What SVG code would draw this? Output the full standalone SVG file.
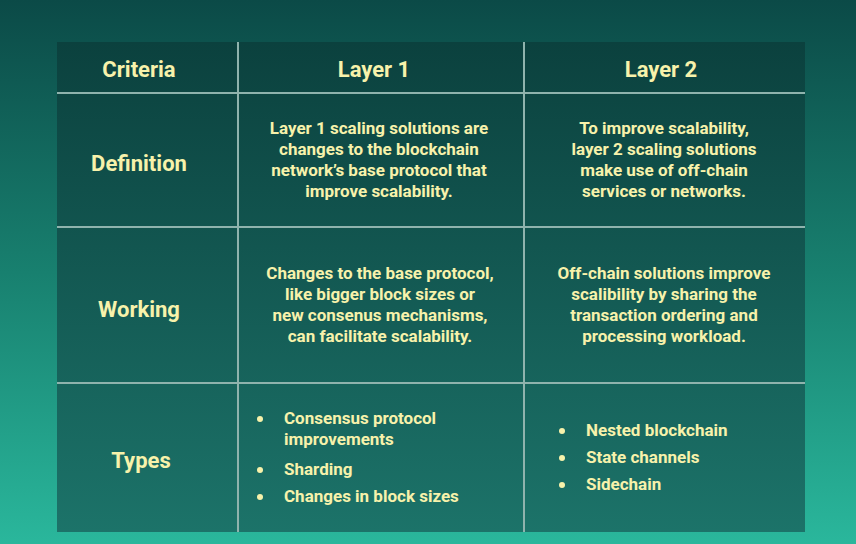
<svg xmlns="http://www.w3.org/2000/svg" width="856" height="544" viewBox="0 0 856 544">
<defs>
<linearGradient id="bg" x1="0" y1="0" x2="0" y2="1"><stop offset="0" stop-color="#0b4a47"/><stop offset="0.5" stop-color="#18806f"/><stop offset="1" stop-color="#2ab79c"/></linearGradient>
<linearGradient id="tb" x1="0" y1="0" x2="0" y2="1"><stop offset="0" stop-color="#0b413e"/><stop offset="1" stop-color="#1c7369"/></linearGradient>
</defs>
<style>
.t{font-family:Roboto,"Liberation Sans",sans-serif;fill:#f7f2ab;font-weight:bold;text-anchor:middle}
.h{font-size:22px}
.b{font-size:17px}
.l{font-family:Roboto,"Liberation Sans",sans-serif;fill:#f7f2ab;font-weight:bold;font-size:17px}
.g{stroke:#8fb3ad;stroke-width:2;fill:none}
</style>
<rect width="856" height="544" fill="url(#bg)"/>
<rect x="57" y="42" width="748" height="490" fill="url(#tb)"/>
<g id="grid">
<line class="g" x1="57" y1="93" x2="805" y2="93"/>
<line class="g" x1="57" y1="227" x2="805" y2="227"/>
<line class="g" x1="57" y1="383" x2="805" y2="383"/>
<line class="g" x1="238" y1="42" x2="238" y2="532"/>
<line class="g" x1="524" y1="42" x2="524" y2="532"/>
</g>
<g id="header">
<text class="t h" x="139" y="77">Criteria</text>
<text class="t h" x="374" y="77">Layer 1</text>
<text class="t h" x="661" y="77">Layer 2</text>
</g>
<g id="definition">
<text class="t h" x="139" y="171">Definition</text>
<text class="t b" x="379" y="134">Layer 1 scaling solutions are</text>
<text class="t b" x="379" y="155">changes to the blockchain</text>
<text class="t b" x="379" y="176">network’s base protocol that</text>
<text class="t b" x="379" y="197">improve scalability.</text>
<text class="t b" x="664" y="134">To improve scalability,</text>
<text class="t b" x="664" y="155">layer 2 scaling solutions</text>
<text class="t b" x="664" y="176">make use of off-chain</text>
<text class="t b" x="664" y="197">services or networks.</text>
</g>
<g id="working">
<text class="t h" x="139" y="317">Working</text>
<text class="t b" x="380" y="279">Changes to the base protocol,</text>
<text class="t b" x="380" y="300">like bigger block sizes or</text>
<text class="t b" x="380" y="321">new consenus mechanisms,</text>
<text class="t b" x="380" y="342">can  facilitate scalability.</text>
<text class="t b" x="664" y="279">Off-chain solutions improve</text>
<text class="t b" x="664" y="300">scalibility by sharing the</text>
<text class="t b" x="664" y="321">transaction ordering and</text>
<text class="t b" x="664" y="342">processing workload.</text>
</g>
<g id="types">
<text class="t h" x="141" y="468">Types</text>
<g fill="#f7f2ab"><circle cx="260" cy="419" r="3"/><circle cx="260" cy="470" r="3"/><circle cx="260" cy="497" r="3"/><circle cx="562" cy="431" r="3"/><circle cx="562" cy="458" r="3"/><circle cx="562" cy="485" r="3"/></g>
<text class="l" x="284" y="424">Consensus protocol</text>
<text class="l" x="284" y="445">improvements</text>
<text class="l" x="284" y="475">Sharding</text>
<text class="l" x="284" y="502">Changes in block sizes</text>
<text class="l" x="586" y="436">Nested blockchain</text>
<text class="l" x="586" y="463">State channels</text>
<text class="l" x="586" y="490">Sidechain</text>
</g>
</svg>
